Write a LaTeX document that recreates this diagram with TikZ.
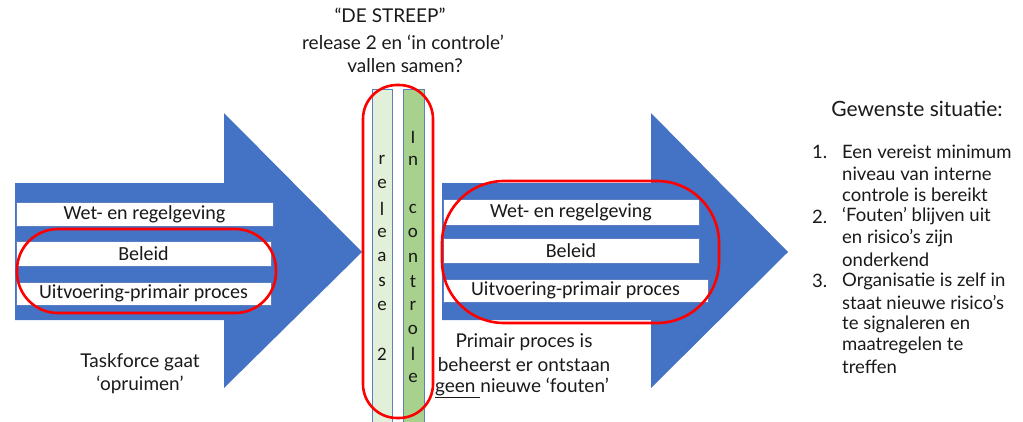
\documentclass[tikz,border=0pt]{standalone}
\usepackage{fontspec}
\setmainfont{Carlito}
\newfontfamily\hand{Lato}
\definecolor{arrowblue}{HTML}{4472C4}
\definecolor{edgeblue}{HTML}{5B7FC0}
\definecolor{redline}{HTML}{FF0000}
\definecolor{lightgreen}{HTML}{E2F0D9}
\definecolor{midgreen}{HTML}{A9D18E}
\definecolor{ink}{HTML}{1A1A1A}
\tikzset{
  bigarrow/.style={fill=arrowblue, draw=none},
  whitebar/.style={fill=white, draw=edgeblue, line width=0.6pt},
  barlabel/.style={font=\fontsize{20}{22}\selectfont, inner sep=0pt, text=black!90},
  redring/.style={draw=redline, line width=2.6pt},
  stripbox/.style={draw=edgeblue, line width=0.7pt},
  handtext/.style={font=\hand\fontsize{19}{22}\selectfont, text=ink, inner sep=0pt, align=center},
  listtext/.style={font=\hand\fontsize{18.5}{22}\selectfont, text=ink, inner sep=0pt},
  headtext/.style={font=\hand\fontsize{21}{24}\selectfont, text=ink, inner sep=0pt},
  letter/.style={font=\fontsize{19}{22}\selectfont, inner sep=0pt, text=black!90},
}
\begin{document}
\begin{tikzpicture}[x=1pt,y=-1pt]
\useasboundingbox (0,0) rectangle (1023,421);
\fill[white] (0,0) rectangle (1023,421);

% left arrow
\path[bigarrow] (15,183) -- (224,183) -- (224,113) -- (362,252) -- (224,388) -- (224,320) -- (15,320) -- cycle;
\draw[whitebar] (16,202) rectangle (273,226);
\draw[whitebar] (16,241) rectangle (271,266);
\draw[whitebar] (16,282) rectangle (271,305);
\node[barlabel] (lwet) at (144.5,214) {Wet- en regelgeving};
\node[barlabel] (lbel) at (143.5,253.5) {Beleid};
\node[barlabel] (luit) at (143.5,293.5) {Uitvoering-primair proces};
\draw[redring, rounded corners=41pt] (17,229) rectangle (276,313);

\node[handtext] (task1) at (140,362) {Taskforce gaat};
\node[handtext] (task2) at (140,385) {‘opruimen’};

% middle strips
\draw[stripbox, fill=lightgreen] (372,89) rectangle (392,425);
\draw[stripbox, fill=midgreen] (403,89) rectangle (424,425);
\foreach \ch [count=\i] in {r,e,l,e,a,s,e,{},2}
  \node[letter] (rel\i) at (382,{160+(\i-1)*24.3}) {\ch};
\foreach \ch [count=\i] in {I,n,{},c,o,n,t,r,o,l,e}
  \node[letter] (inc\i) at (413,{137+(\i-1)*24.1}) {\ch};
\draw[redring, rounded corners=34pt] (363,85) rectangle (433,418);

% title
\node[handtext] (t1) at (390,15) {“DE STREEP”};
\node[handtext] (t2) at (403,42) {release 2 en ‘in controle’};
\node[handtext] (t3) at (405,66) {vallen samen?};

% right arrow
\path[bigarrow] (442,183) -- (651,183) -- (651,113) -- (788,252) -- (651,388) -- (651,320) -- (442,320) -- cycle;
\draw[whitebar] (443,199) rectangle (699,225);
\draw[whitebar] (443,238) rectangle (699,263);
\draw[whitebar] (443,279) rectangle (708,302);
\node[barlabel] (rwet) at (571,212) {Wet- en regelgeving};
\node[barlabel] (rbel) at (571,250.5) {Beleid};
\node[barlabel] (ruit) at (575.5,290.5) {Uitvoering-primair proces};
\draw[redring, rounded corners=62pt] (442,181) rectangle (719,323);

\node[handtext] (p1) at (524,342) {Primair proces is};
\node[handtext] (p2) at (524,365) {beheerst er ontstaan};
\node[handtext] (p3) at (522,388) {\underline{geen\ }nieuwe ‘fouten’};

% desired situation
\node[headtext] (gew) at (917,109) {Gewenste situatie:};
\foreach \txt [count=\i] in {Een vereist minimum, niveau van interne, controle is bereikt,
   ‘Fouten’ blijven uit, en risico’s zijn, onderkend,
   Organisatie is zelf in, staat nieuwe risico’s, te signaleren en, maatregelen te, treffen}
  \node[listtext, anchor=west] (l\i) at (842,{152+(\i-1)*21.5}) {\txt};
\node[listtext, anchor=west] (n1) at (812,152) {1.};
\node[listtext, anchor=west] (n2) at (812,216.5) {2.};
\node[listtext, anchor=west] (n3) at (812,281) {3.};
\end{tikzpicture}
\end{document}
